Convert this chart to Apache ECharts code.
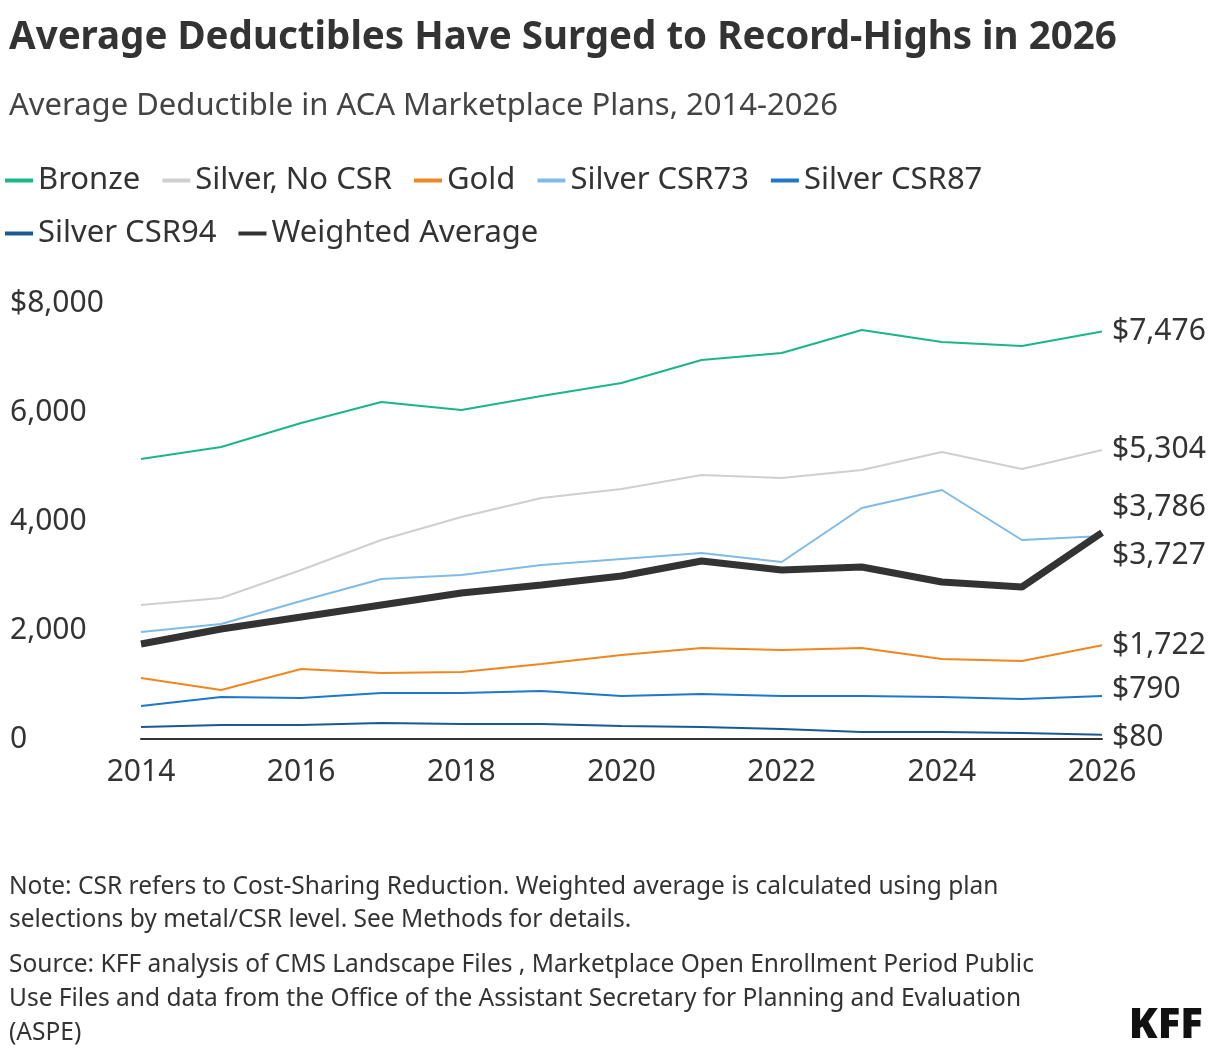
<!DOCTYPE html>
<html>
<head>
<meta charset="utf-8">
<script src="https://cdn.jsdelivr.net/npm/echarts@6/dist/echarts.min.js"></script>
<style>
  body { margin: 0; background: #fff; }
  #chart { width: 1220px; height: 1056px; }
</style>
</head>
<body>
<div id="chart"></div>
<script>
const years = ['2014', '2015', '2016', '2017', '2018', '2019', '2020', '2021', '2022', '2023', '2024', '2025', '2026']
const bronze = [5138, 5358, 5798, 6183, 6037, 6294, 6532, 6954, 7083, 7505, 7284, 7211, 7476]
const silverNoCsr = [2459, 2587, 3101, 3651, 4073, 4422, 4587, 4844, 4789, 4936, 5266, 4954, 5304]
const gold = [1119, 899, 1284, 1211, 1229, 1376, 1541, 1670, 1633, 1670, 1468, 1431, 1722]
const csr73 = [1963, 2110, 2532, 2936, 3009, 3193, 3303, 3413, 3248, 4239, 4569, 3651, 3727]
const csr87 = [606, 771, 752, 844, 844, 881, 789, 826, 789, 789, 771, 734, 790]
const csr94 = [220, 257, 257, 294, 275, 275, 239, 220, 183, 128, 128, 110, 80]
const weighted = [1743, 2018, 2239, 2459, 2679, 2826, 2991, 3266, 3101, 3156, 2881, 2789, 3786]

const font = 'Source Sans Pro, Noto Sans, sans-serif'
const chart = echarts.init(document.getElementById('chart'))

const mk = (name, data, color, width, offset) => ({
  name,
  type: 'line',
  data,
  symbol: 'none',
  z: name === 'Weighted Average' ? 10 : 2,
  lineStyle: { color, width },
  itemStyle: { color },
  endLabel: {
    show: true,
    formatter: p => '$' + p.value.toLocaleString('en-US'),
    color: '#333',
    fontSize: 30,
    fontFamily: font,
    distance: 10,
    offset: offset || [0, 0]
  }
})

chart.setOption({
  animation: false,
  title: [
    { text: 'Average Deductibles Have Surged to Record-Highs in 2026', left: 4, top: 14,
      textStyle: { fontSize: 38.5, fontWeight: 'bold', color: '#333', fontFamily: font } },
    { text: 'Average Deductible in ACA Marketplace Plans, 2014-2026', left: 4, top: 86,
      textStyle: { fontSize: 31, fontWeight: 'normal', color: '#444', fontFamily: font } },
    { text: 'Note: CSR refers to Cost-Sharing Reduction. Weighted average is calculated using plan\nselections by metal/CSR level. See Methods for details.',
      left: 4, top: 866,
      textStyle: { fontSize: 24.5, fontWeight: 'normal', color: '#333', lineHeight: 33, fontFamily: font } },
    { text: 'Source: KFF analysis of CMS Landscape Files , Marketplace Open Enrollment Period Public\nUse Files and data from the Office of the Assistant Secretary for Planning and Evaluation\n(ASPE)',
      left: 4, top: 943,
      textStyle: { fontSize: 24.5, fontWeight: 'normal', color: '#333', lineHeight: 34, fontFamily: font } },
    { text: 'KFF', right: 12, top: 1000,
      textStyle: { fontSize: 42, fontWeight: 900, color: '#111', fontFamily: font } }
  ],
  legend: {
    left: 0, top: 160, width: 1200,
    itemWidth: 28, itemHeight: 4, itemGap: 22,
    textStyle: { fontSize: 31, color: '#333', fontFamily: font },
    icon: 'rect',
    data: ['Bronze', 'Silver, No CSR', 'Gold', 'Silver CSR73', 'Silver CSR87', 'Silver CSR94', 'Weighted Average']
  },
  grid: { left: 141, right: 118, top: 303, bottom: 317 },
  xAxis: {
    type: 'category', data: years, boundaryGap: false,
    axisLine: { lineStyle: { color: '#333', width: 2 } },
    axisTick: { show: false },
    axisLabel: { interval: 1, fontSize: 30, color: '#333', fontFamily: font, margin: 18 }
  },
  yAxis: {
    type: 'value', min: 0, max: 8000, interval: 2000,
    splitLine: { show: false },
    axisLabel: {
      fontSize: 30, color: '#333', fontFamily: font, align: 'left', margin: 131,
      formatter: v => v === 8000 ? '$8,000' : v.toLocaleString('en-US')
    }
  },
  series: [
    mk('Bronze', bronze, '#1bb58a', 2),
    mk('Silver, No CSR', silverNoCsr, '#cfcfcf', 2),
    mk('Gold', gold, '#f0861f', 2),
    mk('Silver CSR73', csr73, '#7fbbe8', 2, [0, 20]),
    mk('Silver CSR87', csr87, '#1d78c9', 2, [0, -6]),
    mk('Silver CSR94', csr94, '#195a96', 2, [0, 3]),
    mk('Weighted Average', weighted, '#333333', 7, [0, -25])
  ]
})
</script>
</body>
</html>
